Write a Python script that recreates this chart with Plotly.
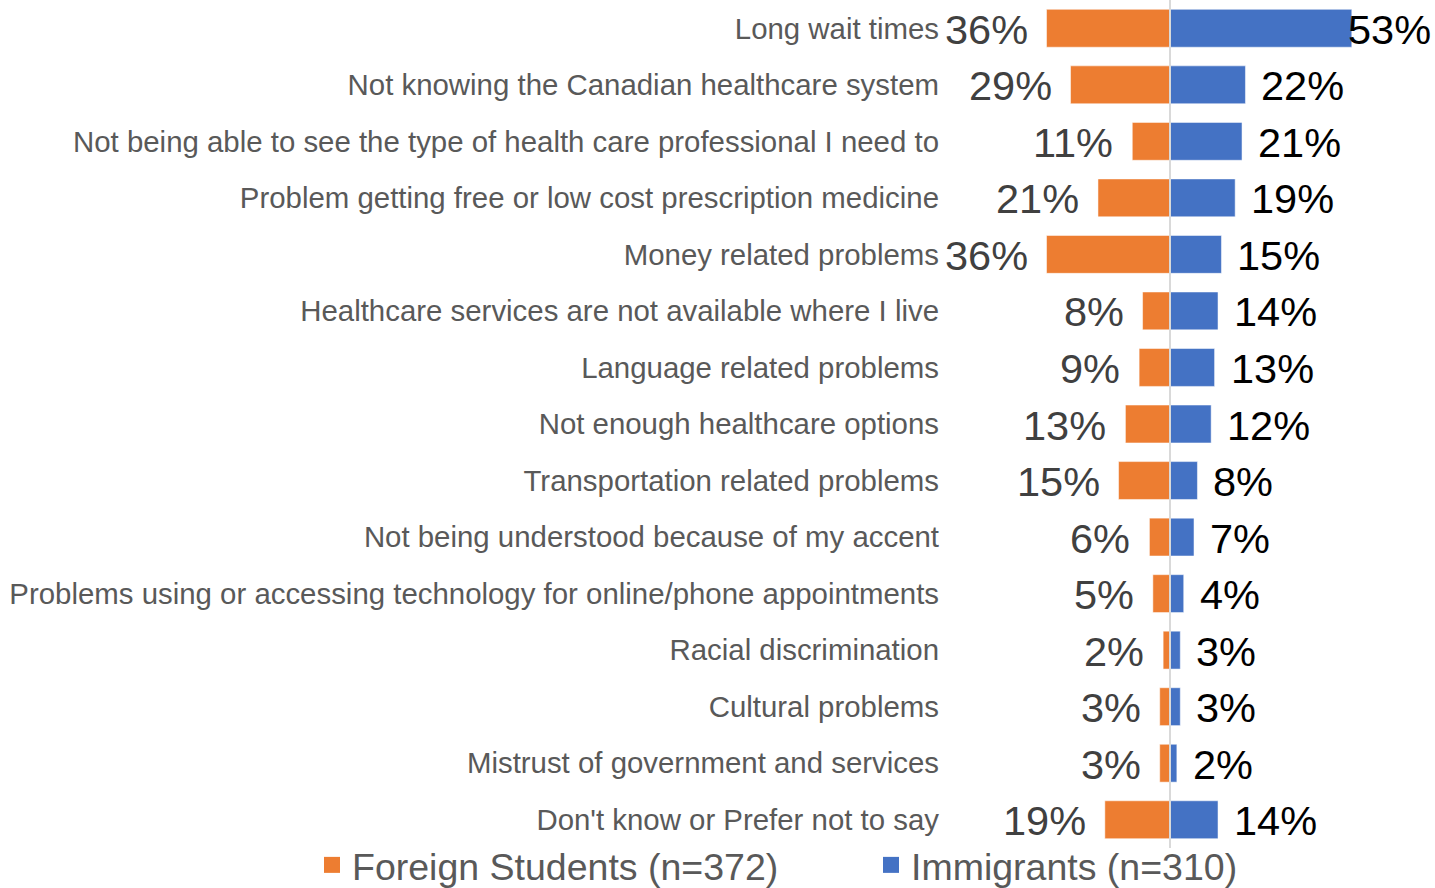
import plotly.graph_objects as go

# Survey: barriers to accessing healthcare, share of respondents
categories = [
    "Long wait times",
    "Not knowing the Canadian healthcare system",
    "Not being able to see the type of health care professional I need to",
    "Problem getting free or low cost prescription medicine",
    "Money related problems",
    "Healthcare services are not available where I live",
    "Language related problems",
    "Not enough healthcare options",
    "Transportation related problems",
    "Not being understood because of my accent",
    "Problems using or accessing technology for online/phone appointments",
    "Racial discrimination",
    "Cultural problems",
    "Mistrust of government and services",
    "Don't know or Prefer not to say",
]
foreign_students = [36, 29, 11, 21, 36, 8, 9, 13, 15, 6, 5, 2, 3, 3, 19]
immigrants = [53, 22, 21, 19, 15, 14, 13, 12, 8, 7, 4, 3, 3, 2, 14]

series_names = ["Foreign Students (n=372)", "Immigrants (n=310)"]

ORANGE = "#ED7D31"
BLUE = "#4472C4"
FONT = "Liberation Sans, Arial, sans-serif"

W, H = 1435, 888
PLOT_LEFT = 944
PLOT_BOTTOM_MARGIN = 40
ZERO_PX = 1170
PX_PER_PCT = 3.43
LABEL_SIZE = 41.5
LABEL_GAP_LEFT = 17
LABEL_GAP_RIGHT = 14

x_min = -(ZERO_PX - PLOT_LEFT) / PX_PER_PCT
x_max = (W - ZERO_PX) / PX_PER_PCT
plot_w = W - PLOT_LEFT
plot_h = H - PLOT_BOTTOM_MARGIN

fig = go.Figure()
for name, vals, sign, color in [(series_names[0], foreign_students, -1, ORANGE),
                                (series_names[1], immigrants, 1, BLUE)]:
    fig.add_trace(go.Bar(
        y=categories, x=[sign * v for v in vals], orientation="h",
        name=name, legendgroup=name, showlegend=False,
        marker=dict(color=color, line=dict(color="rgba(255,255,255,0.5)", width=1)),
        hoverinfo="skip",
    ))
    # legend key drawn as a larger square swatch
    fig.add_trace(go.Scatter(
        x=[None], y=[None], mode="markers", name=name, legendgroup=name,
        marker=dict(symbol="square", size=16, color=color),
    ))


def label_width(text):
    # approximate rendered width of a percentage label
    return LABEL_SIZE * (0.556 * (len(text) - 1) + 0.889)


annotations = []
for cat, v in zip(categories, foreign_students):
    annotations.append(dict(
        x=-v, y=cat, xref="x", yref="y", text=f"{v}%", showarrow=False,
        xanchor="right", yanchor="middle", xshift=-LABEL_GAP_LEFT, yshift=-1,
        font=dict(family=FONT, size=LABEL_SIZE, color="#404040"),
    ))
for cat, v in zip(categories, immigrants):
    text = f"{v}%"
    end_px = ZERO_PX + v * PX_PER_PCT
    shift = min(LABEL_GAP_RIGHT, W - 6 - end_px - label_width(text))
    annotations.append(dict(
        x=v, y=cat, xref="x", yref="y", text=text, showarrow=False,
        xanchor="left", yanchor="middle", xshift=shift, yshift=-1,
        font=dict(family=FONT, size=LABEL_SIZE, color="#000000"),
    ))

fig.update_layout(
    template="none",
    width=W, height=H,
    margin=dict(l=PLOT_LEFT, r=0, t=0, b=PLOT_BOTTOM_MARGIN, autoexpand=False),
    paper_bgcolor="white", plot_bgcolor="white",
    barmode="relative", bargap=0.33,
    font=dict(family=FONT, color="#595959"),
    annotations=annotations,
    shapes=[dict(type="line", xref="x", yref="paper", x0=0, x1=0, y0=0, y1=1,
                 line=dict(color="#D9D9D9", width=2), layer="above")],
    legend=dict(
        orientation="h", xref="paper", yref="paper",
        x=(312 - PLOT_LEFT) / plot_w, y=-17 / plot_h,
        xanchor="left", yanchor="middle",
        font=dict(family=FONT, size=37.5, color="#595959"),
        bgcolor="rgba(0,0,0,0)", entrywidth=514, entrywidthmode="pixels",
        itemclick=False, itemdoubleclick=False,
    ),
    showlegend=True,
)
fig.update_xaxes(range=[x_min, x_max], showgrid=False, zeroline=False,
                 showticklabels=False, ticks="", showline=False, fixedrange=True)
fig.update_yaxes(autorange="reversed", showgrid=False, zeroline=False, ticks="",
                 showline=False, automargin=False, ticklabelstandoff=4,
                 tickfont=dict(family=FONT, size=29.4, color="#595959"))

fig.write_html("out.html")
